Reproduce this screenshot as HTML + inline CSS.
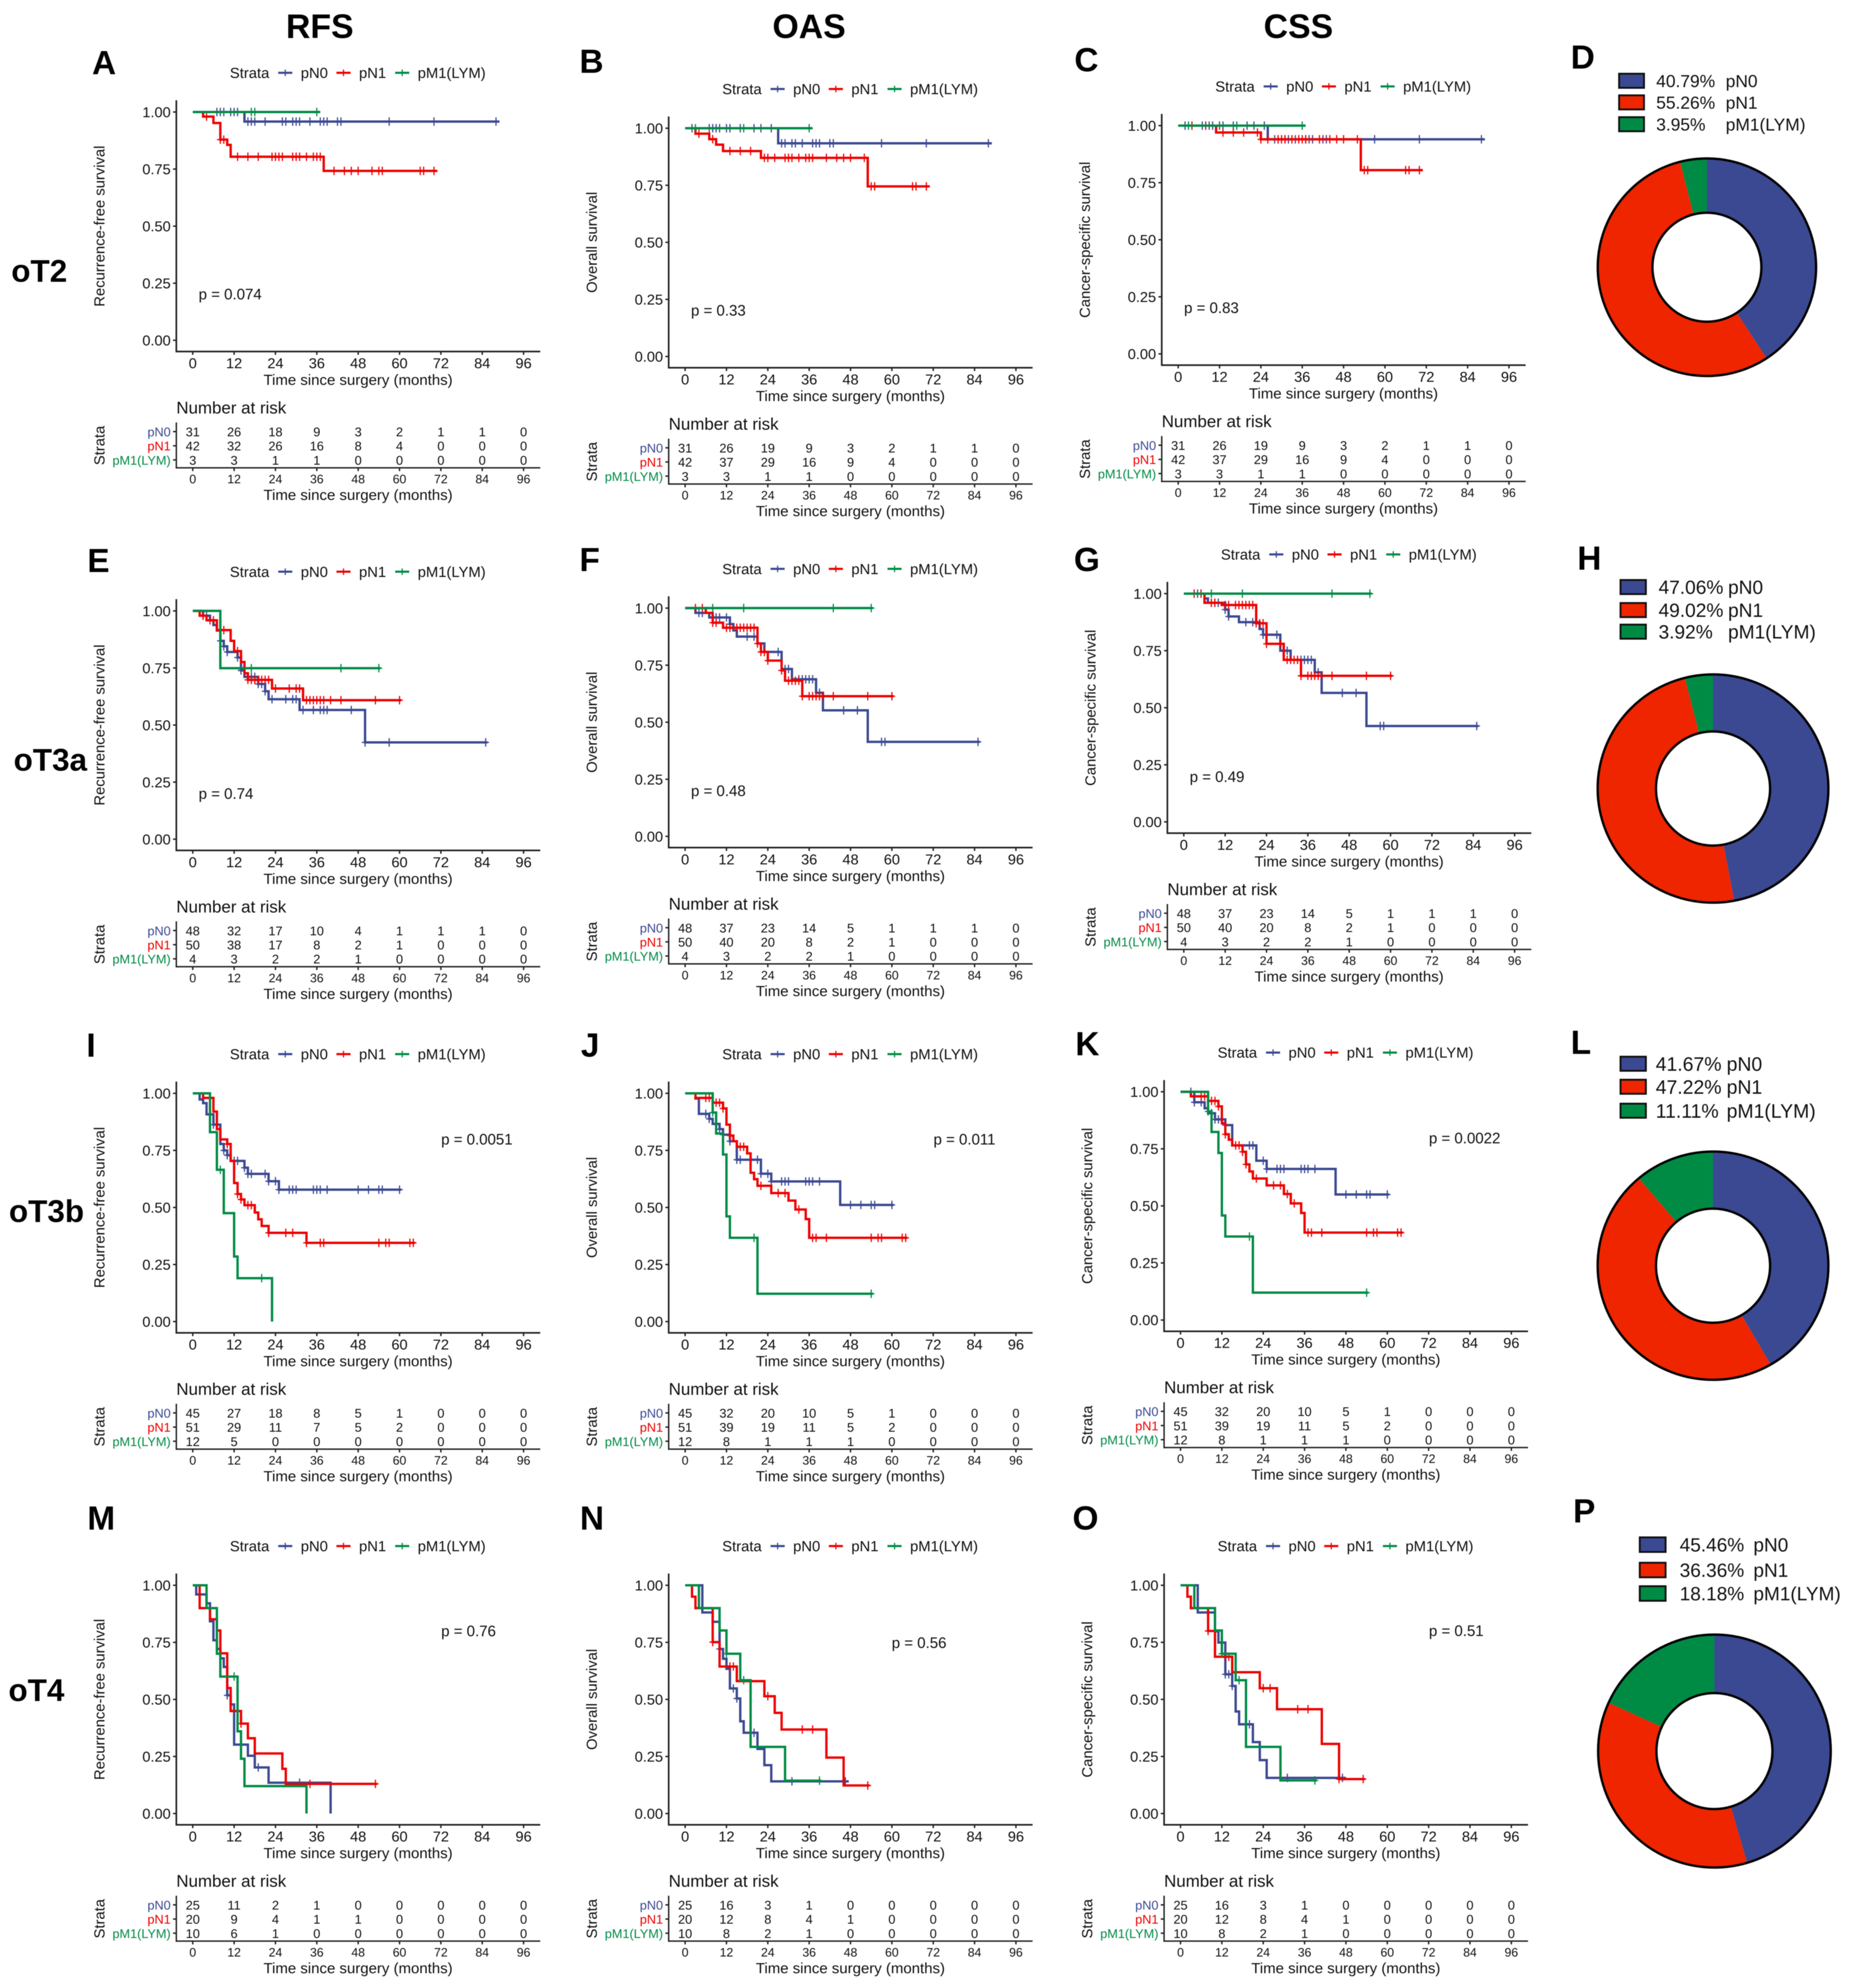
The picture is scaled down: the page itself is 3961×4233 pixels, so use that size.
<!DOCTYPE html>
<html lang="en">
<head>
<meta charset="utf-8">
<title>Survival by nodal status across oT stages</title>
<style>
html,body{margin:0;padding:0;background:#fff;}
svg{display:block;filter:blur(0.7px);}
text{font-family:"Liberation Sans",Arial,sans-serif;fill:#111;}
</style>
</head>
<body>
<svg id="figure" xmlns="http://www.w3.org/2000/svg" width="3961" height="4233" viewBox="0 0 3961 4233">
<rect x="0" y="0" width="3961" height="4233" fill="#ffffff"/>
</svg>
<script>
// ---------- shared axis values ----------
const xTickValues = [0,12,24,36,48,60,72,84,96];
const yTickValues = [1,0.75,0.5,0.25,0];
const yTickLabels = ["1.00","0.75","0.50","0.25","0.00"];
const strataNames = ["pN0","pN1","pM1(LYM)"];
const strataColors = ["#3B4992","#EE0000","#008B45"];
const donutColors = ["#3B4992","#EF2500","#008B45"];
const xTitle = "Time since surgery (months)";

// ---------- Panel A ----------
const A_pN0_t=[15]; const A_pN0_s=[0.958]; const A_pN0_c=[7,8,9,11,12,13,16,17,18,21,26,27,29,30,31,34,37,38,39,42,43,57,70,88];
const A_pN1_t=[3,6,8,10,11,38]; const A_pN1_s=[0.98,0.952,0.879,0.856,0.804,0.742]; const A_pN1_c=[4,8,9,13,16,19,23,24,25,26,29,30,31,33,35,36,37,41,44,46,48,52,54,55,66,67,70];
const A_pM1_t=[]; const A_pM1_s=[]; const A_pM1_c=[17,18,36];
const A_ends=[89,71,37];
const A_risk_pN0=[31,26,18,9,3,2,1,1,0]; const A_risk_pN1=[42,32,26,16,8,4,0,0,0]; const A_risk_pM1=[3,3,1,1,0,0,0,0,0];

// ---------- Panel B ----------
const B_pN0_t=[27]; const B_pN0_s=[0.934]; const B_pN0_c=[2,7,8,9,10,12,13,16,17,20,22,25,28,29,31,32,34,37,38,39,42,43,57,70,88];
const B_pN1_t=[3,7,9,11,22,53]; const B_pN1_s=[0.976,0.952,0.928,0.9,0.87,0.745]; const B_pN1_c=[4,8,13,16,19,23,24,26,29,30,31,33,35,36,37,41,44,46,48,52,54,55,66,67,70];
const B_pM1_t=[]; const B_pM1_s=[]; const B_pM1_c=[3,17,36];
const B_ends=[89,71,37];
const B_risk_pN0=[31,26,19,9,3,2,1,1,0]; const B_risk_pN1=[42,37,29,16,9,4,0,0,0]; const B_risk_pM1=[3,3,1,1,0,0,0,0,0];

// ---------- Panel C ----------
const C_pN0_t=[26]; const C_pN0_s=[0.94]; const C_pN0_c=[2,7,8,9,10,12,13,16,17,20,22,25,28,29,31,32,34,37,38,39,42,43,57,70,88];
const C_pN1_t=[11,24,53]; const C_pN1_s=[0.97,0.94,0.805]; const C_pN1_c=[4,8,13,16,19,23,24,26,29,30,31,33,35,36,37,41,44,46,48,52,54,55,66,67,70];
const C_pM1_t=[]; const C_pM1_s=[]; const C_pM1_c=[3,17,36];
const C_ends=[89,71,37];
const C_risk_pN0=[31,26,19,9,3,2,1,1,0]; const C_risk_pN1=[42,37,29,16,9,4,0,0,0]; const C_risk_pM1=[3,3,1,1,0,0,0,0,0];

// ---------- Panel E ----------
const E_pN0_t=[3,5,6,7,8,9,10,13,14,15,19,21,22,31,50]; const E_pN0_s=[0.979,0.959,0.938,0.914,0.869,0.845,0.82,0.796,0.739,0.711,0.68,0.648,0.613,0.566,0.424]; const E_pN0_c=[3,4,8,9,10,13,14,17,18,19,20,21,23,27,29,30,32,35,37,38,39,46,50,57,85];
const E_pN1_t=[2,4,7,11,12,14,15,16,23,32]; const E_pN1_s=[0.979,0.959,0.916,0.869,0.824,0.776,0.727,0.698,0.66,0.609]; const E_pN1_c=[3,5,6,8,9,13,16,17,18,19,20,21,22,24,28,30,31,33,34,35,36,37,38,40,43,53,60];
const E_pM1_t=[8]; const E_pM1_s=[0.749]; const E_pM1_c=[17,43,54];
const E_ends=[85.5,60.5,54.5];
const E_risk_pN0=[48,32,17,10,4,1,1,1,0]; const E_risk_pN1=[50,38,17,8,2,1,0,0,0]; const E_risk_pM1=[4,3,2,2,1,0,0,0,0];

// ---------- Panel F ----------
const F_pN0_t=[3,7,13,14,15,21,23,28,31,38,40,53]; const F_pN0_s=[0.979,0.959,0.93,0.902,0.875,0.845,0.808,0.733,0.688,0.629,0.552,0.414]; const F_pN0_c=[4,5,8,9,10,12,13,18,20,23,27,29,30,33,34,35,36,37,39,46,50,57,58,85];
const F_pN1_t=[6,8,11,21,22,24,28,29,34]; const F_pN1_s=[0.979,0.936,0.914,0.845,0.808,0.77,0.727,0.682,0.614]; const F_pN1_c=[3,5,8,9,12,13,15,16,17,18,19,20,21,22,23,24,28,30,31,32,33,34,36,37,38,39,40,43,53,60];
const F_pM1_t=[]; const F_pM1_s=[]; const F_pM1_c=[8,17,43,54];
const F_ends=[85.5,60.5,54.5];
const F_risk_pN0=[48,37,23,14,5,1,1,1,0]; const F_risk_pN1=[50,40,20,8,2,1,0,0,0]; const F_risk_pM1=[4,3,2,2,1,0,0,0,0];

// ---------- Panel G ----------
const G_pN0_t=[6,7,12,13,16,22,23,28,31,38,40,53]; const G_pN0_s=[0.979,0.96,0.93,0.9,0.875,0.845,0.82,0.75,0.71,0.655,0.565,0.42]; const G_pN0_c=[4,5,8,9,10,12,13,18,20,23,27,29,30,33,34,35,36,37,39,46,50,57,58,85];
const G_pN1_t=[6,11,21,24,29,34]; const G_pN1_s=[0.96,0.95,0.87,0.78,0.71,0.64]; const G_pN1_c=[3,5,8,9,12,13,15,16,17,18,19,20,21,22,23,24,28,30,31,32,33,34,36,37,38,39,40,43,53,60];
const G_pM1_t=[]; const G_pM1_s=[]; const G_pM1_c=[8,17,43,54];
const G_ends=[85.5,60.5,54.5];
const G_risk_pN0=[48,37,23,14,5,1,1,1,0]; const G_risk_pN1=[50,40,20,8,2,1,0,0,0]; const G_risk_pM1=[4,3,2,2,1,0,0,0,0];

// ---------- Panel I ----------
const I_pN0_t=[2,3,4,6,8,9,10,11,15,16,22,25]; const I_pN0_s=[0.973,0.957,0.908,0.863,0.778,0.75,0.729,0.704,0.674,0.647,0.615,0.578]; const I_pN0_c=[6,9,10,12,13,15,16,17,21,22,24,25,28,29,30,35,36,37,39,48,51,54,55,60];
const I_pN1_t=[3,6,7,8,10,11,12,13,14,15,18,19,20,22,33]; const I_pN1_s=[0.98,0.92,0.843,0.798,0.778,0.704,0.607,0.559,0.535,0.51,0.478,0.448,0.419,0.389,0.345]; const I_pN1_c=[10,13,14,16,17,22,27,29,33,37,38,54,56,57,63,64];
const I_pM1_t=[5,7,9,12,13,23]; const I_pM1_s=[0.83,0.665,0.475,0.285,0.19,0]; const I_pM1_c=[8,20];
const I_ends=[60.5,64.5,23];
const I_risk_pN0=[45,27,18,8,5,1,0,0,0]; const I_risk_pN1=[51,29,11,7,5,2,0,0,0]; const I_risk_pM1=[12,5,0,0,0,0,0,0,0];

// ---------- Panel J ----------
const J_pN0_t=[3,4,7,8,10,11,13,15,22,25,45]; const J_pN0_s=[0.977,0.91,0.888,0.866,0.843,0.819,0.79,0.709,0.648,0.614,0.511]; const J_pN0_c=[6,7,9,10,11,13,15,16,21,22,24,25,28,29,30,35,36,37,39,48,51,54,55,60];
const J_pN1_t=[3,8,11,12,13,14,15,18,19,20,21,25,30,32,35,36]; const J_pN1_s=[0.98,0.959,0.934,0.863,0.815,0.79,0.766,0.737,0.652,0.624,0.595,0.563,0.53,0.491,0.449,0.367]; const J_pN1_c=[6,7,9,10,11,13,16,17,22,27,29,33,37,38,41,54,56,57,63,64];
const J_pM1_t=[8,9,11,12,13,21]; const J_pM1_s=[0.916,0.824,0.732,0.461,0.367,0.122]; const J_pM1_c=[8,20,54];
const J_ends=[60.5,64.5,54.5];
const J_risk_pN0=[45,32,20,10,5,1,0,0,0]; const J_risk_pN1=[51,39,19,11,5,2,0,0,0]; const J_risk_pM1=[12,8,1,1,1,0,0,0,0];

// ---------- Panel K ----------
const K_pN0_t=[4,7,8,10,13,15,22,25,45]; const K_pN0_s=[0.954,0.928,0.906,0.879,0.854,0.765,0.698,0.662,0.55]; const K_pN0_c=[3,4,6,9,10,11,12,13,20,21,24,25,28,29,30,35,36,37,39,48,51,54,55,60];
const K_pN1_t=[3,8,11,12,13,14,15,18,19,20,21,25,30,32,35,36]; const K_pN1_s=[0.98,0.96,0.936,0.862,0.814,0.79,0.765,0.737,0.682,0.651,0.62,0.59,0.552,0.511,0.469,0.383]; const K_pN1_c=[6,7,9,10,11,13,16,17,18,19,22,27,29,31,33,37,38,41,54,56,57,63,64];
const K_pM1_t=[8,9,11,12,13,21]; const K_pM1_s=[0.914,0.824,0.732,0.458,0.366,0.12]; const K_pM1_c=[8,20,54];
const K_ends=[60.5,64.5,54.5];
const K_risk_pN0=[45,32,20,10,5,1,0,0,0]; const K_risk_pN1=[51,39,19,11,5,2,0,0,0]; const K_risk_pM1=[12,8,1,1,1,0,0,0,0];

// ---------- Panel M ----------
const M_pN0_t=[1,4,5,6,7,8,9,10,11,12,16,18,22,40]; const M_pN0_s=[0.96,0.921,0.842,0.759,0.721,0.68,0.642,0.518,0.478,0.302,0.253,0.202,0.135,0]; const M_pN0_c=[10,19,31];
const M_pN1_t=[2,5,7,8,10,11,14,16,18,26,27]; const M_pN1_s=[0.9,0.851,0.802,0.702,0.55,0.449,0.394,0.33,0.263,0.196,0.13]; const M_pN1_c=[14,34,53];
const M_pM1_t=[4,7,8,13,14,15,33]; const M_pM1_s=[0.9,0.7,0.6,0.36,0.24,0.12,0]; const M_pM1_c=[12];
const M_ends=[40,53.5,33];
const M_risk_pN0=[25,11,2,1,0,0,0,0,0]; const M_risk_pN1=[20,9,4,1,1,0,0,0,0]; const M_risk_pM1=[10,6,1,0,0,0,0,0,0];

// ---------- Panel N ----------
const N_pN0_t=[5,8,10,11,12,13,15,16,17,21,23,25]; const N_pN0_s=[0.881,0.84,0.721,0.678,0.634,0.548,0.504,0.404,0.354,0.283,0.212,0.141]; const N_pN0_c=[10,14,15,19,20,31,46.5];
const N_pN1_t=[2,3,8,10,15,23,26,28,41,46]; const N_pN1_s=[0.95,0.9,0.751,0.644,0.58,0.514,0.441,0.368,0.245,0.123]; const N_pN1_c=[8,13,14,24,34,37,53];
const N_pM1_t=[4,10,12,16,19,29]; const N_pM1_s=[0.9,0.802,0.7,0.584,0.292,0.144]; const N_pM1_c=[12,17,39];
const N_ends=[47.5,53.5,39.5];
const N_risk_pN0=[25,16,3,1,0,0,0,0,0]; const N_risk_pN1=[20,12,8,4,1,0,0,0,0]; const N_risk_pM1=[10,8,2,1,0,0,0,0,0];

// ---------- Panel O ----------
const O_pN0_t=[5,10,11,13,15,16,17,21,23,25]; const O_pN0_s=[0.881,0.798,0.749,0.61,0.559,0.447,0.391,0.313,0.234,0.156]; const O_pN0_c=[8,10,13,14,15,19,20,31,47];
const O_pN1_t=[2,3,8,10,15,23,28,41,46]; const O_pN1_s=[0.95,0.9,0.8,0.687,0.619,0.549,0.457,0.305,0.151]; const O_pN1_c=[8,13,14,24,26,34,37,46,53];
const O_pM1_t=[4,10,12,16,19,29]; const O_pM1_s=[0.9,0.802,0.7,0.584,0.292,0.145]; const O_pM1_c=[12,17,39];
const O_ends=[48,53.5,39.5];
const O_risk_pN0=[25,16,3,1,0,0,0,0,0]; const O_risk_pN1=[20,12,8,4,1,0,0,0,0]; const O_risk_pM1=[10,8,2,1,0,0,0,0,0];

// ---------- Donut shares (percent) ----------
const D_shares=[40.79,55.26,3.95]; const D_labels=["40.79%","55.26%","3.95%"];
const H_shares=[47.06,49.02,3.92]; const H_labels=["47.06%","49.02%","3.92%"];
const L_shares=[41.67,47.22,11.11]; const L_labels=["41.67%","47.22%","11.11%"];
const P_shares=[45.46,36.36,18.18]; const P_labels=["45.46%","36.36%","18.18%"];

// ---------- Rendering ----------
const NS="http://www.w3.org/2000/svg";
const root=document.getElementById('figure');

function mk(tag,parent,name){
  const el=document.createElementNS(NS,tag);
  
  
  parent.appendChild(el);
  return el;
}
function addText(parent,name,str,x,y,size,anchor,fill,weight,rot){
  const el=mk('text',parent,name);
  el.setAttribute('x',x);
  el.setAttribute('y',y);
  el.setAttribute('font-size',size);
  el.setAttribute('text-anchor',anchor||'start');
  if(fill) el.style.fill=fill;
  if(weight) el.setAttribute('font-weight',weight);
  if(rot) el.setAttribute('transform','rotate('+rot+' '+x+' '+y+')');
  el.textContent=str;
  return el;
}
function addLine(parent,name,x1,y1,x2,y2,color,w){
  const el=mk('line',parent,name);
  el.setAttribute('x1',x1);el.setAttribute('y1',y1);
  el.setAttribute('x2',x2);el.setAttribute('y2',y2);
  el.setAttribute('stroke',color);el.setAttribute('stroke-width',w);
  return el;
}
const AX="#222222";
const PX_PER_MONTH=704.5/96;
const PLOT_H=486;

function drawKM(p){
  const g=mk('g',root,'km-panel-'+p.id);
  const xS=t=>p.x0+t*PX_PER_MONTH;
  const yS=s=>p.y1+(1-s)*PLOT_H;
  const axisX=p.x0-35;
  const axisY=p.y1+510;
  const rightX=p.x0+740;

  // legend
  const ly=p.y1-83.5;
  addText(g,'legend-title','Strata',p.x0+79,ly+11,31.5);
  const keyX=[182,306,431], lblX=[230,354,479];
  strataNames.forEach((n,i)=>{
    addLine(g,'legend-key-line',p.x0+keyX[i],ly,p.x0+keyX[i]+30,ly,strataColors[i],4.5);
    addLine(g,'legend-key-tick',p.x0+keyX[i]+15,ly-7,p.x0+keyX[i]+15,ly+7,strataColors[i],2.5);
    addText(g,'legend-label',n,p.x0+lblX[i],ly+11,31.5);
  });

  // axes
  addLine(g,'y-axis',axisX,p.y1-25,axisX,axisY+1.5,AX,3.5);
  addLine(g,'x-axis',axisX-1.5,axisY,rightX,axisY,AX,3.5);
  yTickValues.forEach((v,i)=>{
    addLine(g,'y-tick',axisX-7,yS(v),axisX,yS(v),AX,3);
    addText(g,'y-tick-label',yTickLabels[i],axisX-12,yS(v)+11,31,'end');
  });
  xTickValues.forEach(v=>{
    addLine(g,'x-tick',xS(v),axisY,xS(v),axisY+7,AX,3);
    addText(g,'x-tick-label',String(v),xS(v),p.y1+545.5,31,'middle');
  });
  addText(g,'x-axis-title',xTitle,p.x0+352,p.y1+581,31.9,'middle');
  addText(g,'y-axis-title',p.yTitle,axisX-153,p.y1+243,31.5,'middle',null,null,-90);

  // curves
  p.series.forEach((sr,i)=>{
    const times=sr[0],surv=sr[1],cens=sr[2],end=p.ends[i];
    let d='M'+xS(0)+' '+yS(1);
    let cur=1;
    times.forEach((t,k)=>{
      d+=' L'+xS(t)+' '+yS(cur)+' L'+xS(t)+' '+yS(surv[k]);
      cur=surv[k];
    });
    d+=' L'+xS(end)+' '+yS(cur);
    const path=mk('path',g,'km-curve-'+strataNames[i].toLowerCase().replace(/[()]/g,''));
    path.setAttribute('d',d);
    path.setAttribute('fill','none');
    path.setAttribute('stroke',strataColors[i]);
    path.setAttribute('stroke-width',5);
    path.setAttribute('stroke-linejoin','miter');

    let m='';
    cens.forEach(t=>{
      let s=1;
      times.forEach((tt,k)=>{ if(tt<=t) s=surv[k]; });
      m+=' M'+xS(t)+' '+(yS(s)-9)+' V'+(yS(s)+9)+' M'+(xS(t)-7)+' '+yS(s)+' H'+(xS(t)+7);
    });
    const marks=mk('path',g,'censor-marks-'+strataNames[i].toLowerCase().replace(/[()]/g,''));
    marks.setAttribute('d',m);
    marks.setAttribute('fill','none');
    marks.setAttribute('stroke',strataColors[i]);
    marks.setAttribute('stroke-width',2.5);
  });

  // p value
  addText(g,'p-value',p.pText,p.x0+p.pdx,p.y1+p.pdy+11,32);

  // risk table
  addText(g,'risk-table-title','Number at risk',axisX,p.y1+629+13,36);
  const rowY=[680.5,710.7,740.8];
  const tableAxisY=p.y1+757.6;
  addLine(g,'risk-y-axis',axisX,p.y1+661,axisX,tableAxisY+1.5,AX,3);
  addLine(g,'risk-x-axis',axisX-1.5,tableAxisY,rightX,tableAxisY,AX,3);
  addText(g,'risk-strata-title','Strata',axisX-153,p.y1+710,31.5,'middle',null,null,-90);
  p.risk.forEach((row,i)=>{
    const y=p.y1+rowY[i];
    addLine(g,'risk-row-tick',axisX-7,y,axisX,y,AX,3);
    addText(g,'risk-row-label',strataNames[i],axisX-12,y+10,27,'end',strataColors[i]);
    row.forEach((v,k)=>{
      addText(g,'risk-count',String(v),xS(xTickValues[k]),y+10,27,'middle');
    });
  });
  xTickValues.forEach(v=>{
    addLine(g,'risk-x-tick',xS(v),tableAxisY,xS(v),tableAxisY+7,AX,3);
    addText(g,'risk-x-tick-label',String(v),xS(v),p.y1+790.5,26,'middle');
  });
  addText(g,'risk-x-axis-title',xTitle,p.x0+352,p.y1+826,31.9,'middle');
}

function drawDonut(d){
  const g=mk('g',root,'donut-panel-'+d.id);
  const total=d.shares.reduce((a,b)=>a+b,0);
  let acc=0;
  d.shares.forEach((v,i)=>{
    const a0=acc/total*2*Math.PI; acc+=v;
    const a1=acc/total*2*Math.PI;
    const pt=(rx,ry,a)=>(d.cx+rx*Math.sin(a))+' '+(d.cy-ry*Math.cos(a));
    const large=(a1-a0)>Math.PI?1:0;
    const s=mk('path',g,'donut-slice-'+strataNames[i].toLowerCase().replace(/[()]/g,''));
    s.setAttribute('d','M'+pt(d.rx,d.ry,a0)+' A'+d.rx+' '+d.ry+' 0 '+large+' 1 '+pt(d.rx,d.ry,a1)+
      ' L'+pt(d.ir,d.ir,a1)+' A'+d.ir+' '+d.ir+' 0 '+large+' 0 '+pt(d.ir,d.ir,a0)+' Z');
    s.setAttribute('fill',donutColors[i]);
  });
  [[d.rx,d.ry,'donut-outer-ring'],[d.ir,d.ir,'donut-inner-ring']].forEach(r=>{
    const c=mk('ellipse',g,r[2]);
    c.setAttribute('cx',d.cx);c.setAttribute('cy',d.cy);
    c.setAttribute('rx',r[0]);c.setAttribute('ry',r[1]);
    c.setAttribute('fill','none');c.setAttribute('stroke','#000');c.setAttribute('stroke-width',5);
  });
  d.legendY.forEach((y,i)=>{
    const r=mk('rect',g,'donut-legend-swatch');
    r.setAttribute('x',d.sqX);r.setAttribute('y',y-d.sqH/2);
    r.setAttribute('width',d.sqW);r.setAttribute('height',d.sqH);
    r.setAttribute('fill',donutColors[i]);r.setAttribute('stroke','#111');r.setAttribute('stroke-width',4);
    addText(g,'donut-legend-percent',d.labels[i],d.pctX,y+d.font*0.36,d.font);
    addText(g,'donut-legend-label',strataNames[i],d.lblX,y+d.font*0.36,d.font);
  });
}

const OS='Overall survival', RF='Recurrence-free survival', CS='Cancer-specific survival';
const kmPanels=[
 {id:'a',x0:410.5,y1:238.5,yTitle:RF,pText:'p = 0.074',pdx:12.5,pdy:388,ends:A_ends,series:[[A_pN0_t,A_pN0_s,A_pN0_c],[A_pN1_t,A_pN1_s,A_pN1_c],[A_pM1_t,A_pM1_s,A_pM1_c]],risk:[A_risk_pN0,A_risk_pN1,A_risk_pM1]},
 {id:'b',x0:1459,y1:273,yTitle:OS,pText:'p = 0.33',pdx:12.5,pdy:388,ends:B_ends,series:[[B_pN0_t,B_pN0_s,B_pN0_c],[B_pN1_t,B_pN1_s,B_pN1_c],[B_pM1_t,B_pM1_s,B_pM1_c]],risk:[B_risk_pN0,B_risk_pN1,B_risk_pM1]},
 {id:'c',x0:2509,y1:267.5,yTitle:CS,pText:'p = 0.83',pdx:12.5,pdy:388,ends:C_ends,series:[[C_pN0_t,C_pN0_s,C_pN0_c],[C_pN1_t,C_pN1_s,C_pN1_c],[C_pM1_t,C_pM1_s,C_pM1_c]],risk:[C_risk_pN0,C_risk_pN1,C_risk_pM1]},
 {id:'e',x0:410.5,y1:1300.8,yTitle:RF,pText:'p = 0.74',pdx:12.5,pdy:389,ends:E_ends,series:[[E_pN0_t,E_pN0_s,E_pN0_c],[E_pN1_t,E_pN1_s,E_pN1_c],[E_pM1_t,E_pM1_s,E_pM1_c]],risk:[E_risk_pN0,E_risk_pN1,E_risk_pM1]},
 {id:'f',x0:1459,y1:1294.8,yTitle:OS,pText:'p = 0.48',pdx:12.5,pdy:389,ends:F_ends,series:[[F_pN0_t,F_pN0_s,F_pN0_c],[F_pN1_t,F_pN1_s,F_pN1_c],[F_pM1_t,F_pM1_s,F_pM1_c]],risk:[F_risk_pN0,F_risk_pN1,F_risk_pM1]},
 {id:'g',x0:2521,y1:1264,yTitle:CS,pText:'p = 0.49',pdx:12.5,pdy:390,ends:G_ends,series:[[G_pN0_t,G_pN0_s,G_pN0_c],[G_pN1_t,G_pN1_s,G_pN1_c],[G_pM1_t,G_pM1_s,G_pM1_c]],risk:[G_risk_pN0,G_risk_pN1,G_risk_pM1]},
 {id:'i',x0:410.5,y1:2328,yTitle:RF,pText:'p = 0.0051',pdx:529,pdy:98,ends:I_ends,series:[[I_pN0_t,I_pN0_s,I_pN0_c],[I_pN1_t,I_pN1_s,I_pN1_c],[I_pM1_t,I_pM1_s,I_pM1_c]],risk:[I_risk_pN0,I_risk_pN1,I_risk_pM1]},
 {id:'j',x0:1459,y1:2328,yTitle:OS,pText:'p = 0.011',pdx:529,pdy:98,ends:J_ends,series:[[J_pN0_t,J_pN0_s,J_pN0_c],[J_pN1_t,J_pN1_s,J_pN1_c],[J_pM1_t,J_pM1_s,J_pM1_c]],risk:[J_risk_pN0,J_risk_pN1,J_risk_pM1]},
 {id:'k',x0:2514,y1:2324.7,yTitle:CS,pText:'p = 0.0022',pdx:529,pdy:99,ends:K_ends,series:[[K_pN0_t,K_pN0_s,K_pN0_c],[K_pN1_t,K_pN1_s,K_pN1_c],[K_pM1_t,K_pM1_s,K_pM1_c]],risk:[K_risk_pN0,K_risk_pN1,K_risk_pM1]},
 {id:'m',x0:410.5,y1:3375.5,yTitle:RF,pText:'p = 0.76',pdx:529,pdy:97.5,ends:M_ends,series:[[M_pN0_t,M_pN0_s,M_pN0_c],[M_pN1_t,M_pN1_s,M_pN1_c],[M_pM1_t,M_pM1_s,M_pM1_c]],risk:[M_risk_pN0,M_risk_pN1,M_risk_pM1]},
 {id:'n',x0:1459,y1:3375.5,yTitle:OS,pText:'p = 0.56',pdx:440,pdy:122.4,ends:N_ends,series:[[N_pN0_t,N_pN0_s,N_pN0_c],[N_pN1_t,N_pN1_s,N_pN1_c],[N_pM1_t,N_pM1_s,N_pM1_c]],risk:[N_risk_pN0,N_risk_pN1,N_risk_pM1]},
 {id:'o',x0:2514,y1:3375.5,yTitle:CS,pText:'p = 0.51',pdx:529,pdy:97,ends:O_ends,series:[[O_pN0_t,O_pN0_s,O_pN0_c],[O_pN1_t,O_pN1_s,O_pN1_c],[O_pM1_t,O_pM1_s,O_pM1_c]],risk:[O_risk_pN0,O_risk_pN1,O_risk_pM1]}
];
kmPanels.forEach(drawKM);

[
 {id:'d',shares:D_shares,labels:D_labels,cx:3635,cy:569,rx:232.5,ry:231.6,ir:116,sqX:3448,sqW:53,sqH:30,legendY:[172,218,264.5],pctX:3527,lblX:3675,font:37},
 {id:'h',shares:H_shares,labels:H_labels,cx:3648,cy:1679,rx:245.7,ry:243,ir:121.5,sqX:3451,sqW:54,sqH:30,legendY:[1250,1299,1345],pctX:3532,lblX:3680,font:40.7},
 {id:'l',shares:L_shares,labels:L_labels,cx:3648,cy:2695,rx:245.7,ry:243,ir:121.5,sqX:3451,sqW:54,sqH:30,legendY:[2265,2314,2365],pctX:3526,lblX:3677,font:41.3},
 {id:'p',shares:P_shares,labels:P_labels,cx:3651,cy:3728.5,rx:247.7,ry:248,ir:123.5,sqX:3492,sqW:55,sqH:31,legendY:[3289,3343,3393],pctX:3577,lblX:3734,font:40.5}
].forEach(drawDonut);

// column titles
[['RFS',681],['OAS',1723],['CSS',2765]].forEach(c=>{
  addText(root,'column-title-'+c[0].toLowerCase(),c[0],c[1],81,72,'middle','#000','bold');
});
// row labels
[['oT2',24,600],['oT3a',29,1641],['oT3b',19,2602],['oT4',18,3622]].forEach(r=>{
  addText(root,'row-label-'+r[0].toLowerCase(),r[0],r[1],r[2],67,'start','#000','bold');
});
// panel letters
[['A',196,158],['B',1234,155],['C',2288,152],['D',3345,146],
 ['E',186,1218],['F',1234,1216],['G',2287,1216],['H',3359,1213],
 ['I',184,2250],['J',1237,2250],['K',2290,2247],['L',3345,2244],
 ['M',186,3257],['N',1235,3257],['O',2284,3257],['P',3350,3242]].forEach(l=>{
  addText(root,'panel-letter-'+l[0].toLowerCase(),l[0],l[1],l[2],71,'start','#000','bold');
});
</script>
</body>
</html>
